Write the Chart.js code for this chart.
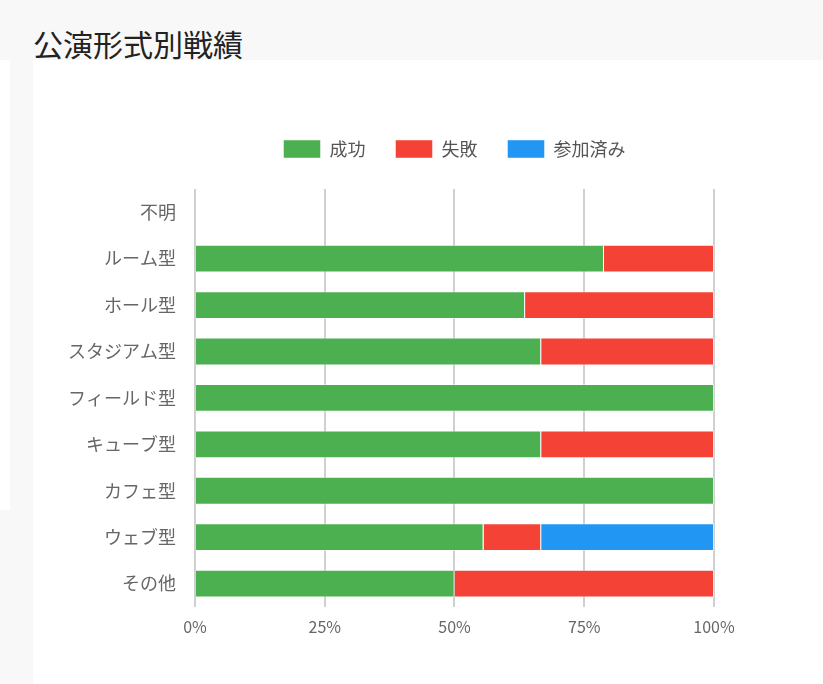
<!DOCTYPE html>
<html><head><meta charset="utf-8">
<script src="https://cdn.jsdelivr.net/npm/chart.js@4.4.0/dist/chart.umd.min.js"></script>
<style>
html,body{margin:0;padding:0;background:#f8f8f8;width:823px;height:684px;overflow:hidden;font-family:"Noto Sans CJK JP",sans-serif;}
#title{position:absolute;left:33px;top:23px;font-size:30px;line-height:40px;color:#222;margin:0;font-weight:normal;}
#side{position:absolute;left:0;top:60px;width:10px;height:450px;background:#fff;}
#panel{position:absolute;left:33px;top:60px;width:790px;height:624px;background:#fff;}
canvas{position:absolute;left:0;top:0;}
</style></head>
<body>
<h1 id="title">公演形式別戦績</h1>
<div id="side"></div>
<div id="panel"><canvas id="c" width="790" height="624"></canvas></div>
<script>
const categories = ["不明","ルーム型","ホール型","スタジアム型","フィールド型","キューブ型","カフェ型","ウェブ型","その他"];
const successPct = [0, 78.8, 63.6, 66.7, 100, 66.7, 100, 55.6, 50];
const failPct    = [0, 21.2, 36.4, 33.3, 0, 33.3, 0, 11.1, 50];
const joinedPct  = [0, 0, 0, 0, 0, 0, 0, 33.3, 0];
const xTicks = [0, 25, 50, 75, 100];

const fam = '"Noto Sans CJK JP", sans-serif';
const legendGap = {
  id: 'legendGap',
  beforeInit(chart) {
    const lg = chart.legend;
    const fit = lg.fit;
    lg.fit = function () { fit.call(this); this.height += 21; };
  }
};
new Chart(document.getElementById('c'), {
  type: 'bar',
  data: {
    labels: categories,
    datasets: [
      {label: '成功', data: successPct, backgroundColor: '#4CAF50', borderColor: 'rgba(255,255,255,0.45)', borderWidth: 1},
      {label: '失敗', data: failPct, backgroundColor: '#F44336', borderColor: 'rgba(255,255,255,0.45)', borderWidth: 1},
      {label: '参加済み', data: joinedPct, backgroundColor: '#2196F3', borderColor: 'rgba(255,255,255,0.45)', borderWidth: 1}
    ]
  },
  plugins: [legendGap],
  options: {
    indexAxis: 'y',
    responsive: false,
    animation: false,
    layout: {padding: {top: 50, right: 109, bottom: 36, left: 24}},
    datasets: {bar: {categoryPercentage: 0.8, barPercentage: 0.75}},
    plugins: {
      legend: {
        position: 'top',
        fullSize: false,
        labels: {boxWidth: 37, boxHeight: 18, padding: 30, color: '#555', font: {family: fam, size: 18}}
      },
      tooltip: {enabled: false}
    },
    scales: {
      x: {
        stacked: true, min: 0, max: 100,
        afterBuildTicks: (s) => { s.ticks = xTicks.map(v => ({value: v})); },
        grid: {color: '#d0d0d0', lineWidth: 2, drawTicks: false},
        border: {display: false},
        ticks: {color: '#666', font: {family: fam, size: 16}, padding: 11, callback: v => v + '%'}
      },
      y: {
        stacked: true,
        grid: {display: false},
        border: {display: false},
        ticks: {color: '#666', font: {family: fam, size: 18}, padding: 11}
      }
    }
  }
});
</script>
</body></html>
